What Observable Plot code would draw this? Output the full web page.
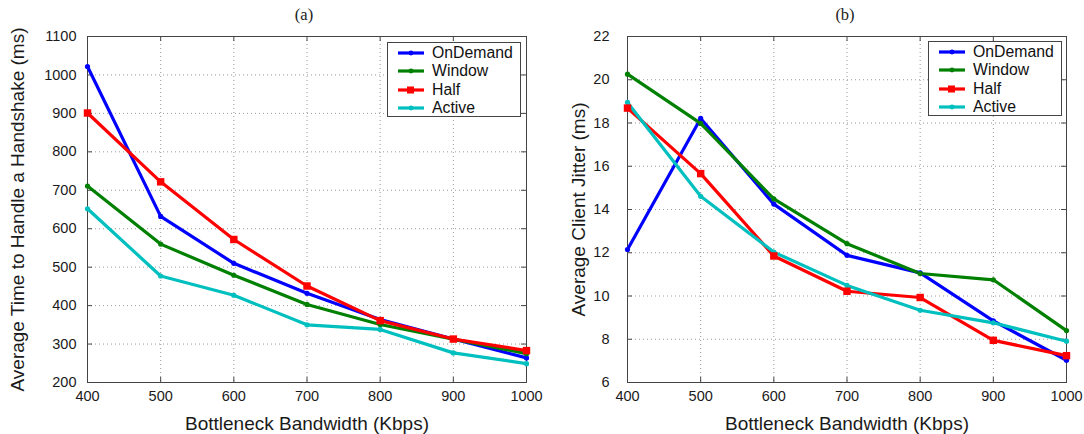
<!DOCTYPE html>
<html>
<head>
<meta charset="utf-8">
<script src="https://cdn.jsdelivr.net/npm/d3@7"></script>
<script src="https://cdn.jsdelivr.net/npm/@observablehq/plot@0.6"></script>
<style>
  html, body { margin: 0; padding: 0; background: #fff; }
  #wrap { position: relative; width: 1084px; height: 434px; overflow: hidden; font-family: "Liberation Sans", Arial, sans-serif; }
  .panel { position: absolute; top: 0; }
  .title { position: absolute; top: 5px; line-height: 19px; font-family: "Liberation Serif", "Times New Roman", serif; font-size: 16.5px; color: #222; transform: translateX(-50%); }
  .legend { position: absolute; background: #fff; border: 1px solid #444; box-sizing: border-box; padding-top: 1px; }
  .legend .row { position: relative; height: 18.3px; line-height: 18.3px; font-size: 15.8px; color: #111; }
  .legend .row svg { position: absolute; left: 9px; top: 3px; }
  .legend .row span { position: absolute; left: 44px; top: 0; }
  svg g[aria-label="x-axis label"] text, svg g[aria-label="y-axis label"] text { font-size: 19px; }
</style>
</head>
<body>
<div id="wrap">
  <div class="panel" id="pa" style="left:0"></div>
  <div class="panel" id="pb" style="left:542px"></div>
  <div class="title" style="left:304px">(a)</div>
  <div class="title" style="left:845px">(b)</div>
  <div class="legend" id="la" style="left:387px;top:42px;width:134px;height:75px"></div>
  <div class="legend" id="lb" style="left:928px;top:41px;width:134px;height:75px"></div>
</div>
<script>
// ---------- data ----------
const bandwidth = [400, 500, 600, 700, 800, 900, 1000];
const seriesNames = ["OnDemand", "Window", "Half", "Active"];
const seriesColors = ["#0000ff", "#008000", "#ff0000", "#00bfbf"];
const seriesSymbols = ["circle", "circle", "square", "circle"];

// (a) Average time to handle a handshake (ms)
const handshakeOnDemand = [1022, 632, 510, 432, 364, 313, 264];
const handshakeWindow   = [711, 560, 479, 403, 351, 313, 275];
const handshakeHalf     = [901, 722, 572, 451, 361, 313, 283];
const handshakeActive   = [652, 477, 427, 350, 338, 277, 249];

// (b) Average client jitter (ms)
const jitterOnDemand = [12.15, 18.21, 14.25, 11.88, 11.07, 8.85, 7.03];
const jitterWindow   = [20.26, 17.98, 14.49, 12.42, 11.04, 10.75, 8.40];
const jitterHalf     = [18.69, 15.66, 11.85, 10.22, 9.93, 7.95, 7.24];
const jitterActive   = [18.95, 14.61, 12.03, 10.49, 9.34, 8.76, 7.91];

const xTicks = [400, 500, 600, 700, 800, 900, 1000];
const yTicksA = [200, 300, 400, 500, 600, 700, 800, 900, 1000, 1100];
const yTicksB = [6, 8, 10, 12, 14, 16, 18, 20, 22];

const xLabel = "Bottleneck Bandwidth (Kbps)";
const yLabelA = "Average Time to Handle a Handshake (ms)";
const yLabelB = "Average Client Jitter (ms)";

// ---------- helpers ----------
function toRows(seriesArrays) {
  const rows = [];
  seriesArrays.forEach((vals, i) => {
    vals.forEach((v, j) => rows.push({x: bandwidth[j], y: v, series: seriesNames[i]}));
  });
  return rows;
}

function panel({el, series, yTicks, yLabel, marginLeft, marginRight, yLabelOffset, yTickPadding}) {
  const W = 542, H = 434, mt = 36, mb = 52;
  const ih = H - mt - mb, iw = W - marginLeft - marginRight;
  const data = toRows(series);
  const tk = 5;
  const chart = Plot.plot({
    width: W, height: H,
    marginTop: mt, marginBottom: mb, marginLeft, marginRight,
    style: {fontFamily: "'Liberation Sans', Arial, sans-serif", fontSize: "14.5px", color: "#1a1a1a", background: "transparent", overflow: "visible"},
    x: {domain: [xTicks[0], xTicks[xTicks.length - 1]]},
    y: {domain: [yTicks[0], yTicks[yTicks.length - 1]]},
    color: {domain: seriesNames, range: seriesColors},
    symbol: {domain: seriesNames, range: seriesSymbols},
    marks: [
      Plot.gridX(xTicks, {stroke: "#9a9a9a", strokeOpacity: 1, strokeDasharray: "1,3"}),
      Plot.gridY(yTicks, {stroke: "#9a9a9a", strokeOpacity: 1, strokeDasharray: "1,3"}),
      Plot.tickX(xTicks, {x: d => d, insetTop: ih - tk, stroke: "#444"}),
      Plot.tickX(xTicks, {x: d => d, insetBottom: ih - tk, stroke: "#444"}),
      Plot.tickY(yTicks, {y: d => d, insetRight: iw - tk, stroke: "#444"}),
      Plot.tickY(yTicks, {y: d => d, insetLeft: iw - tk, stroke: "#444"}),
      Plot.frame({stroke: "#444"}),
      Plot.axisX(xTicks, {tickSize: 0, tickPadding: 8, label: xLabel, labelAnchor: "center", labelArrow: "none", labelOffset: 47, tickFormat: d => String(d)}),
      Plot.axisY(yTicks, {tickSize: 0, tickPadding: yTickPadding, label: yLabel, labelAnchor: "center", labelArrow: "none", labelOffset: yLabelOffset, tickFormat: d => String(d)}),
      Plot.line(data, {x: "x", y: "y", z: "series", stroke: "series", strokeWidth: 3.2}),
      Plot.dot(data.filter(d => d.series !== "Half"), {x: "x", y: "y", fill: "series", r: 2.6, symbol: "series"}),
      Plot.dot(data.filter(d => d.series === "Half"), {x: "x", y: "y", fill: "series", r: 4.2, symbol: "series"})
    ]
  });
  document.getElementById(el).appendChild(chart);
}

function legend(el) {
  const box = document.getElementById(el);
  seriesNames.forEach((name, i) => {
    const row = document.createElement("div");
    row.className = "row";
    const sq = seriesSymbols[i] === "square";
    row.innerHTML =
      `<svg width="28" height="12"><line x1="1" y1="6" x2="27" y2="6" stroke="${seriesColors[i]}" stroke-width="3.2"/>` +
      (sq ? `<rect x="10" y="2.5" width="7" height="7" fill="${seriesColors[i]}"/>`
          : `<circle cx="14" cy="6" r="2.4" fill="${seriesColors[i]}"/>`) +
      `</svg><span>${name}</span>`;
    box.appendChild(row);
  });
}

panel({el: "pa", series: [handshakeOnDemand, handshakeWindow, handshakeHalf, handshakeActive],
  yTicks: yTicksA, yLabel: yLabelA, marginLeft: 87, marginRight: 16, yLabelOffset: 77, yTickPadding: 11});
panel({el: "pb", series: [jitterOnDemand, jitterWindow, jitterHalf, jitterActive],
  yTicks: yTicksB, yLabel: yLabelB, marginLeft: 85, marginRight: 18, yLabelOffset: 56, yTickPadding: 18});
legend("la");
legend("lb");
</script>
</body>
</html>
